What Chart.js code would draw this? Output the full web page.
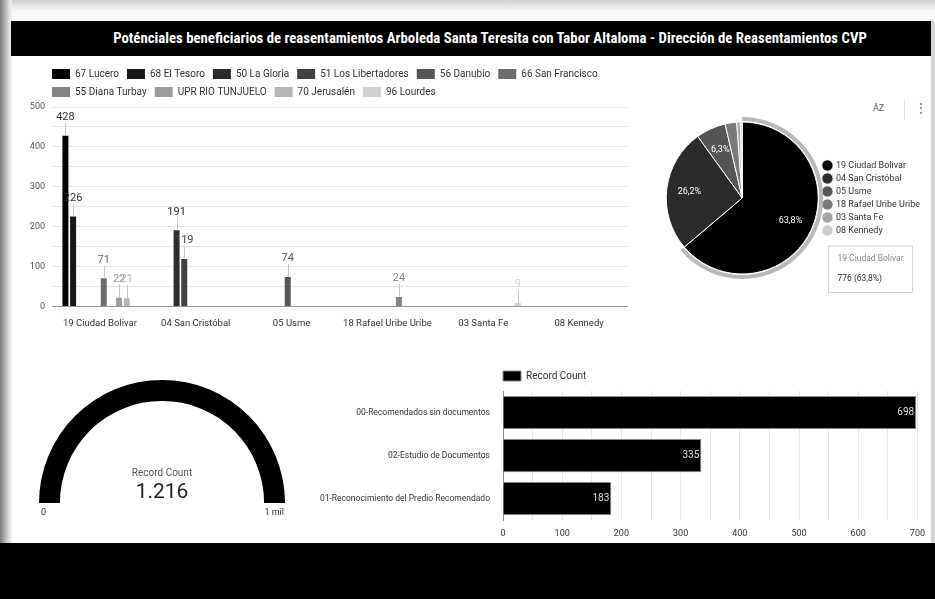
<!DOCTYPE html>
<html lang="es">
<head>
<meta charset="utf-8">
<title>Reasentamientos CVP</title>
<script src="https://cdn.jsdelivr.net/npm/chart.js@4.4.1/dist/chart.umd.min.js"></script>
<style>
  html, body { margin: 0; padding: 0; background: #fff; font-family: Roboto, "Noto Sans", sans-serif; }
  body { width: 935px; height: 599px; position: relative; overflow: hidden; }
  .sombra-izq { position: absolute; left: 0; top: 0; width: 12px; height: 543px;
    background: linear-gradient(to right, #7a7a7a, #d8d8d8 70%, #f4f4f4); }
  .sombra-sup { position: absolute; left: 12px; top: 0; width: 923px; height: 21px;
    background: linear-gradient(#d0d0d0, #f6f6f6 50%, #fff); }
  .titulo { position: absolute; left: 11px; top: 21px; width: 890px; height: 35px; padding-left: 34px;
    background: #000; color: #fff; text-align: center; line-height: 35px;
    font-family: "Liberation Sans Narrow", "Roboto Condensed", Roboto, sans-serif; font-weight: bold; font-size: 14.8px; }
  .pie-pagina { position: absolute; left: 0; top: 543px; width: 935px; height: 56px; background: #000; }
  .borde-der { position: absolute; left: 931px; top: 21px; width: 4px; height: 522px; background: #d5d5d5; }
  .iconos { position: absolute; top: 103px; font-size: 9px; color: #666; }
  .sep { position: absolute; left: 904px; top: 100px; width: 1px; height: 20px; background: #e0e0e0; }
  canvas { position: absolute; }
</style>
</head>
<body>
<div class="sombra-izq"></div>
<div class="sombra-sup"></div>
<div class="titulo">Poténciales beneficiarios de reasentamientos Arboleda Santa Teresita con Tabor Altaloma - Dirección de Reasentamientos CVP</div>
<div class="borde-der"></div>
<div class="iconos" style="left:873px;">A&#774;Z</div>
<div class="sep"></div>
<div class="iconos" style="left:915px; font-size:12px; top:101px;">&#8942;</div>

<canvas id="grafico1" width="615" height="274" style="left:15px; top:58px;"></canvas>
<canvas id="grafico2" width="265" height="200" style="left:665px; top:100px;"></canvas>
<canvas id="grafico3" width="266" height="155" style="left:29px; top:375px;"></canvas>
<canvas id="grafico4" width="633" height="190" style="left:300px; top:357px;"></canvas>
<div class="pie-pagina"></div>

<script>
// ==================================== DATOS =============================================

const localidades = ["19 Ciudad Bolivar", "04 San Cristóbal", "05 Usme", "18 Rafael Uribe Uribe", "03 Santa Fe", "08 Kennedy"];
const barrios = ["67 Lucero", "68 El Tesoro", "50 La Gloria", "51 Los Libertadores", "56 Danubio",
  "66 San Francisco", "55 Diana Turbay", "UPR RIO TUNJUELO", "70 Jerusalén", "96 Lourdes"];

// un arreglo por barrio, en el orden de las localidades
const lucero = [428, null, null, null, null, null];
const elTesoro = [226, null, null, null, null, null];
const laGloria = [null, 191, null, null, null, null];
const libertadores = [null, 119, null, null, null, null];
const danubio = [null, null, 74, null, null, null];
const sanFrancisco = [71, null, null, null, null, null];
const dianaTurbay = [null, null, null, 24, null, null];
const uprTunjuelo = [22, null, null, null, null, null];
const jerusalen = [21, null, null, null, null, null];
const lourdes = [null, null, null, null, 9, null];

const totalesLocalidad = [776, 319, 77, 30, 9, 5];

const gaugeValor = 1216;
const gaugeMax = 1000;

const estados = ["00-Recomendados sin documentos", "02-Estudio de Documentos", "01-Reconocimiento del Predio Recomendado"];
const conteoEstados = [698, 335, 183];

const grises = ["#000000", "#161616", "#2c2c2c", "#414141", "#565656", "#6c6c6c", "#838383", "#9c9c9c", "#b5b5b5", "#d0d0d0"];
const grisesPie = ["#000000", "#2b2b2b", "#555555", "#7a7a7a", "#a5a5a5", "#cccccc"];

const fuente = "Roboto";

// leyenda alineada con el area del grafico
const moverLeyenda = {
  id: "moverLeyenda",
  afterLayout(chart) {
    const o = chart.options.plugins.moverLeyenda;
    if (o && o.x !== undefined) chart.legend.left = chart.chartArea.left + o.x;
  },
};

const pct = (v, total) => (v / total * 100).toFixed(1).replace(".", ",") + "%";

// ==================================== GRAFICO 1 =========================================

const etiquetasBarras = {
  id: "etiquetasBarras",
  afterDatasetsDraw(chart) {
    const ctx = chart.ctx;
    ctx.save();
    chart.data.datasets.forEach((ds, i) => {
      chart.getDatasetMeta(i).data.forEach((bar, j) => {
        const v = ds.data[j];
        if (!v) return;
        ctx.strokeStyle = "#c8c8c8";
        ctx.lineWidth = 1;
        ctx.beginPath();
        ctx.moveTo(Math.round(bar.x) + 0.5, bar.y);
        ctx.lineTo(Math.round(bar.x) + 0.5, bar.y - 13);
        ctx.stroke();
        ctx.fillStyle = i < 2 ? "#333" : ds.backgroundColor;
        ctx.font = "11px " + fuente;
        ctx.textAlign = "center";
        ctx.textBaseline = "bottom";
        ctx.fillText(v, bar.x, bar.y - 13);
      });
    });
    ctx.restore();
  },
};

const seriesBarrios = [lucero, elTesoro, laGloria, libertadores, danubio, sanFrancisco, dianaTurbay, uprTunjuelo, jerusalen, lourdes];

const data = {
  labels: localidades,
  datasets: barrios.map((b, i) => ({
    label: b,
    data: seriesBarrios[i],
    backgroundColor: grises[i],
    borderWidth: 0,
    categoryPercentage: 0.8,
    barPercentage: 0.78,
  })),
};

const config = {
  type: "bar",
  data: data,
  options: {
    responsive: false,
    animation: false,
    layout: { padding: { top: 3, right: 3, left: 0, bottom: 0 } },
    plugins: {
      legend: {
        align: "start",
        labels: { boxWidth: 18, boxHeight: 10, padding: 8, color: "#333", font: { family: fuente, size: 10 } },
      },
      moverLeyenda: { x: -8 },
      tooltip: { enabled: false },
    },
    scales: {
      x: {
        grid: { display: false },
        border: { color: "#999" },
        ticks: { color: "#333", font: { family: fuente, size: 9.5 } },
      },
      y: {
        min: 0,
        max: 500,
        afterFit: (s) => { s.width = 37; },
        grid: { color: "#e6e6e6", drawTicks: false },
        border: { display: false },
        ticks: {
          stepSize: 50,
          padding: 7,
          color: "#555",
          font: { family: fuente, size: 9 },
          callback: (v) => (v % 100 === 0 ? v : ""),
        },
      },
    },
  },
  plugins: [moverLeyenda, etiquetasBarras],
};

// ==================================== GRAFICO 2 =========================================

const totalPie = totalesLocalidad.reduce((a, b) => a + b, 0);

const aroPie = {
  id: "aroPie",
  beforeDatasetsDraw(chart) {
    const arc = chart.getDatasetMeta(0).data[0];
    const ctx = chart.ctx;
    ctx.save();
    ctx.strokeStyle = "#b9b9b9";
    ctx.lineWidth = 4;
    ctx.beginPath();
    ctx.arc(arc.x, arc.y, arc.outerRadius + 3, arc.startAngle, arc.endAngle);
    ctx.stroke();
    ctx.restore();
  },
  afterDatasetsDraw(chart) {
    const ctx = chart.ctx;
    ctx.save();
    ctx.fillStyle = "#fff";
    ctx.font = "9px " + fuente;
    ctx.textAlign = "center";
    ctx.textBaseline = "middle";
    chart.getDatasetMeta(0).data.forEach((arc, i) => {
      const v = totalesLocalidad[i];
      if (v / totalPie < 0.05) return;
      const a = (arc.startAngle + arc.endAngle) / 2;
      const r = arc.outerRadius * 0.7;
      ctx.fillText(pct(v, totalPie), arc.x + Math.cos(a) * r, arc.y + Math.sin(a) * r);
    });
    ctx.restore();
  },
};

Chart.Tooltip.positioners.fijo = function () {
  return { x: this.chart.legend.left + 9, y: this.chart.chartArea.bottom - 40 };
};

const dataG2 = {
  labels: localidades,
  datasets: [
    {
      data: totalesLocalidad,
      backgroundColor: grisesPie,
      borderColor: "#fff",
      borderWidth: 1,
    },
  ],
};

const configG2 = {
  type: "pie",
  data: dataG2,
  options: {
    responsive: false,
    animation: false,
    radius: 76,
    layout: { padding: { top: 10, bottom: 14, left: 0, right: 0 } },
    plugins: {
      legend: {
        position: "right",
        labels: {
          usePointStyle: true,
          pointStyle: "circle",
          boxWidth: 8,
          boxHeight: 8,
          padding: 4,
          color: "#333",
          font: { family: fuente, size: 9 },
        },
      },
      tooltip: {
        animation: false,
        position: "fijo",
        xAlign: "left",
        yAlign: "top",
        caretSize: 0,
        caretPadding: 0,
        cornerRadius: 0,
        displayColors: false,
        backgroundColor: "#fff",
        borderColor: "#d0d0d0",
        borderWidth: 1,
        padding: { x: 9, y: 8 },
        titleColor: "#888",
        titleFont: { family: fuente, size: 8.5, weight: "normal" },
        titleMarginBottom: 10,
        bodyColor: "#333",
        bodyFont: { family: fuente, size: 8.5 },
        callbacks: {
          title: (items) => items[0].label,
          label: (item) => item.raw + " (" + pct(item.raw, totalPie) + ")",
        },
      },
    },
  },
  plugins: [aroPie],
};

// ==================================== GRAFICO 3 =========================================

const formatoMiles = (n) => String(n).replace(/\B(?=(\d{3})+(?!\d))/g, ".");

const textoGauge = {
  id: "textoGauge",
  afterDraw(chart) {
    const ctx = chart.ctx;
    const arc = chart.getDatasetMeta(0).data[0];
    ctx.save();
    ctx.textAlign = "center";
    ctx.fillStyle = "#555";
    ctx.font = "10px " + fuente;
    ctx.textBaseline = "alphabetic";
    ctx.fillText("Record Count", arc.x, arc.y - 27);
    ctx.fillStyle = "#222";
    ctx.font = "21px " + fuente;
    ctx.fillText(formatoMiles(gaugeValor), arc.x, arc.y - 5);
    ctx.fillStyle = "#333";
    ctx.font = "9px " + fuente;
    ctx.textBaseline = "top";
    ctx.textAlign = "left";
    ctx.fillText("0", arc.x - arc.outerRadius + 2, arc.y + 5);
    ctx.textAlign = "right";
    ctx.fillText(formatoMiles(gaugeMax / 1000) + " mil", arc.x + arc.outerRadius - 1, arc.y + 5);
    ctx.restore();
  },
};

const dataG3 = {
  labels: ["Record Count", ""],
  datasets: [
    {
      data: [Math.min(gaugeValor, gaugeMax), Math.max(gaugeMax - gaugeValor, 0)],
      backgroundColor: ["#000", "#e6e6e6"],
      borderWidth: 0,
    },
  ],
};

const configG3 = {
  type: "doughnut",
  data: dataG3,
  options: {
    responsive: false,
    animation: false,
    rotation: -90,
    circumference: 180,
    cutout: "83%",
    layout: { padding: { left: 10, right: 10, top: 5, bottom: 27 } },
    plugins: { legend: { display: false }, tooltip: { enabled: false } },
  },
  plugins: [textoGauge],
};

// ==================================== GRAFICO 4 =========================================

const etiquetasEstados = {
  id: "etiquetasEstados",
  afterDatasetsDraw(chart) {
    const ctx = chart.ctx;
    ctx.save();
    ctx.fillStyle = "#ddd";
    ctx.font = "10px " + fuente;
    ctx.textAlign = "right";
    ctx.textBaseline = "middle";
    chart.getDatasetMeta(0).data.forEach((bar, i) => {
      ctx.fillText(conteoEstados[i], bar.x - 2, bar.y);
    });
    ctx.restore();
  },
};

const dataG4 = {
  labels: estados,
  datasets: [
    {
      label: "Record Count",
      data: conteoEstados,
      backgroundColor: "#000",
      borderColor: "#8a8a8a",
      borderWidth: 1,
      categoryPercentage: 0.88,
      barPercentage: 0.875,
    },
  ],
};

const configG4 = {
  type: "bar",
  data: dataG4,
  options: {
    indexAxis: "y",
    responsive: false,
    animation: false,
    layout: { padding: { top: 2, right: 0, left: 0, bottom: 0 } },
    plugins: {
      legend: {
        align: "start",
        labels: { boxWidth: 18, boxHeight: 10, padding: 12, color: "#333", font: { family: fuente, size: 10 } },
      },
      moverLeyenda: { x: -12 },
      tooltip: { enabled: false },
    },
    scales: {
      x: {
        min: 0,
        max: 700,
        grid: { color: "#e6e6e6", drawTicks: false },
        border: { display: false },
        ticks: {
          stepSize: 50,
          padding: 8,
          color: "#333",
          font: { family: fuente, size: 9 },
          callback: (v) => (v % 100 === 0 ? v : ""),
        },
      },
      y: {
        afterFit: (s) => { s.width = 203; },
        grid: { display: false },
        border: { color: "#888" },
        ticks: { color: "#333", padding: 5, font: { family: fuente, size: 8.5 } },
      },
    },
  },
  plugins: [moverLeyenda, etiquetasEstados],
};

const grafico1 = new Chart(document.getElementById("grafico1"), config);
const grafico2 = new Chart(document.getElementById("grafico2"), configG2);
const grafico3 = new Chart(document.getElementById("grafico3"), configG3);
const grafico4 = new Chart(document.getElementById("grafico4"), configG4);

// tooltip fijo de la localidad principal
grafico2.tooltip.setActiveElements([{ datasetIndex: 0, index: 0 }], { x: 0, y: 0 });
grafico2.update();
</script>
</body>
</html>
